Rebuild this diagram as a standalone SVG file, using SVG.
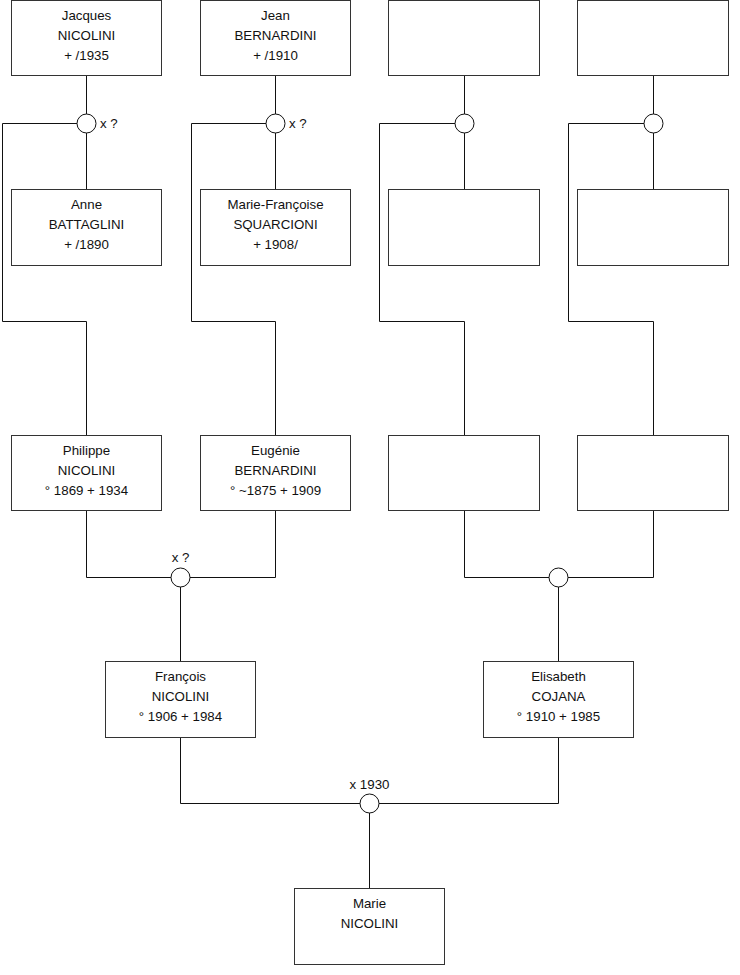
<svg xmlns="http://www.w3.org/2000/svg" width="740" height="975" viewBox="0 0 740 975">
<style>
.box{fill:#fff;stroke:#333;stroke-width:1}
.ln{fill:none;stroke:#111;stroke-width:1}
.ci{fill:#fff;stroke:#111;stroke-width:1}
text{font-family:"Liberation Sans",Arial,sans-serif;font-size:13.3px;fill:#111}
.c{text-anchor:middle}
</style>
<rect width="740" height="975" fill="#fff"/>
<g id="connectors">
<path class="ln" d="M86.5 75.5V189.5M86.5 123.5H2.5V321.5H86.5V435.5"/>
<path class="ln" d="M275.5 75.5V189.5M275.5 123.5H191.5V321.5H275.5V435.5"/>
<path class="ln" d="M464.5 75.5V189.5M464.5 123.5H379.5V321.5H464.5V435.5"/>
<path class="ln" d="M653.5 75.5V189.5M653.5 123.5H568.5V321.5H653.5V435.5"/>
<path class="ln" d="M86.5 510.5V577.5H275.5V510.5M180.5 577.5V661.5"/>
<path class="ln" d="M464.5 510.5V577.5H653.5V510.5M558.5 577.5V661.5"/>
<path class="ln" d="M180.5 737.5V803.5H558.5V737.5M369.5 803.5V888.5"/>
<circle class="ci" cx="86.5" cy="123.5" r="9.5"/>
<circle class="ci" cx="275.5" cy="123.5" r="9.5"/>
<circle class="ci" cx="464.5" cy="123.5" r="9.5"/>
<circle class="ci" cx="653.5" cy="123.5" r="9.5"/>
<circle class="ci" cx="180.5" cy="577.5" r="9.5"/>
<circle class="ci" cx="558.5" cy="577.5" r="9.5"/>
<circle class="ci" cx="369.5" cy="803.5" r="9.5"/>
<text x="100" y="128">x ?</text>
<text x="289" y="128">x ?</text>
<text class="c" x="180.5" y="562">x ?</text>
<text class="c" x="369.5" y="789">x 1930</text>
</g>
<g id="jacques"><rect class="box" x="11.5" y="0.5" width="150" height="75"/>
<text class="c" x="86.5" y="20">Jacques</text><text class="c" x="86.5" y="40">NICOLINI</text><text class="c" x="86.5" y="60">+ /1935</text></g>
<g id="jean"><rect class="box" x="200.5" y="0.5" width="150" height="75"/>
<text class="c" x="275.5" y="20">Jean</text><text class="c" x="275.5" y="40">BERNARDINI</text><text class="c" x="275.5" y="60">+ /1910</text></g>
<g id="unknown1"><rect class="box" x="388.5" y="0.5" width="151" height="75"/></g>
<g id="unknown2"><rect class="box" x="577.5" y="0.5" width="151" height="75"/></g>
<g id="anne"><rect class="box" x="11.5" y="189.5" width="150" height="76"/>
<text class="c" x="86.5" y="209">Anne</text><text class="c" x="86.5" y="229">BATTAGLINI</text><text class="c" x="86.5" y="249">+ /1890</text></g>
<g id="mariefrancoise"><rect class="box" x="200.5" y="189.5" width="150" height="76"/>
<text class="c" x="275.5" y="209">Marie-Françoise</text><text class="c" x="275.5" y="229">SQUARCIONI</text><text class="c" x="275.5" y="249">+ 1908/</text></g>
<g id="unknown3"><rect class="box" x="388.5" y="189.5" width="151" height="76"/></g>
<g id="unknown4"><rect class="box" x="577.5" y="189.5" width="151" height="76"/></g>
<g id="philippe"><rect class="box" x="11.5" y="435.5" width="150" height="75"/>
<text class="c" x="86.5" y="455">Philippe</text><text class="c" x="86.5" y="475">NICOLINI</text><text class="c" x="86.5" y="495">° 1869 + 1934</text></g>
<g id="eugenie"><rect class="box" x="200.5" y="435.5" width="150" height="75"/>
<text class="c" x="275.5" y="455">Eugénie</text><text class="c" x="275.5" y="475">BERNARDINI</text><text class="c" x="275.5" y="495">° ~1875 + 1909</text></g>
<g id="unknown5"><rect class="box" x="388.5" y="435.5" width="151" height="75"/></g>
<g id="unknown6"><rect class="box" x="577.5" y="435.5" width="151" height="75"/></g>
<g id="francois"><rect class="box" x="105.5" y="661.5" width="150" height="76"/>
<text class="c" x="180.5" y="681">François</text><text class="c" x="180.5" y="701">NICOLINI</text><text class="c" x="180.5" y="721">° 1906 + 1984</text></g>
<g id="elisabeth"><rect class="box" x="483.5" y="661.5" width="150" height="76"/>
<text class="c" x="558.5" y="681">Elisabeth</text><text class="c" x="558.5" y="701">COJANA</text><text class="c" x="558.5" y="721">° 1910 + 1985</text></g>
<g id="marie"><rect class="box" x="294.5" y="888.5" width="150" height="76"/>
<text class="c" x="369.5" y="908">Marie</text><text class="c" x="369.5" y="928">NICOLINI</text></g>
</svg>
